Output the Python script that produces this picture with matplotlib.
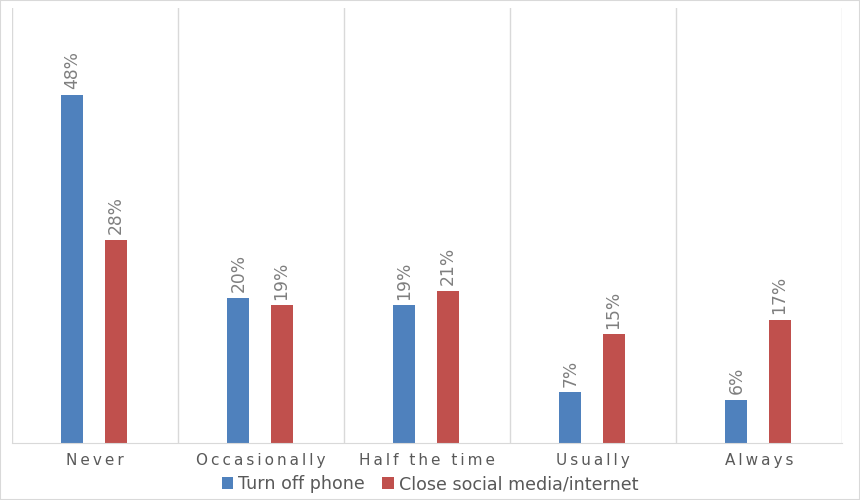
import numpy as np
import matplotlib
matplotlib.use("Agg")
import matplotlib.pyplot as plt
from matplotlib.patches import Rectangle

categories = ["Never", "Occasionally", "Half the time", "Usually", "Always"]
turn_off_phone = [48, 20, 19, 7, 6]
close_social = [28, 19, 21, 15, 17]
series_names = ["Turn off phone", "Close social media/internet"]

blue = "#4F81BD"
red = "#C0504D"
grid_col = "#D9D9D9"
text_col = "#595959"

plt.rcParams['font.family'] = ['DejaVu Sans']

fig = plt.figure(figsize=(8.6, 5), dpi=100)
ax = fig.add_axes([12 / 860, 57 / 500, 830 / 860, 435 / 500])

x = np.arange(len(categories))
w = 0.133
off = 0.13
b1 = ax.bar(x - off - 0.006, turn_off_phone, w, color=blue, label=series_names[0])
b2 = ax.bar(x + off - 0.006, close_social, w, color=red, label=series_names[1])

for bars, vals in [(b1, turn_off_phone), (b2, close_social)]:
    for b, v in zip(bars, vals):
        ax.annotate(f"{v}%", (b.get_x() + b.get_width() / 2, v),
                    xytext=(0, 4), textcoords="offset points",
                    rotation=90, ha="center", va="bottom",
                    fontsize=12.3, color="#7F7F7F")

ax.set_xlim(-0.5, len(categories) - 0.5)
ax.set_ylim(0, 60)
ax.set_yticks([])

# letter-spaced category labels
spaced = ["\u2009".join(c) for c in categories]
ax.set_xticks(x)
ax.set_xticklabels(spaced, fontsize=11, color=text_col)
ax.tick_params(axis="x", which="major", length=0, pad=7)

ax.set_xticks(np.arange(-0.5, len(categories)), minor=True)
ax.tick_params(axis="x", which="minor", length=0)
ax.grid(True, axis="x", which="minor", color=grid_col, linewidth=1)
ax.set_axisbelow(True)

for s in ["top", "left", "right"]:
    ax.spines[s].set_visible(False)
ax.spines["bottom"].set_color(grid_col)

fig.legend(loc="lower center", bbox_to_anchor=(0.5, -0.018), ncol=2, frameon=False,
           fontsize=12.6, handlelength=0.65, handleheight=0.65, handletextpad=0.3,
           columnspacing=1.0, labelcolor=text_col)

fig.patches.append(Rectangle((0, 0), 1, 1, transform=fig.transFigure,
                             fill=False, edgecolor=grid_col, linewidth=1.5))

fig.savefig("out.png", dpi=100)
